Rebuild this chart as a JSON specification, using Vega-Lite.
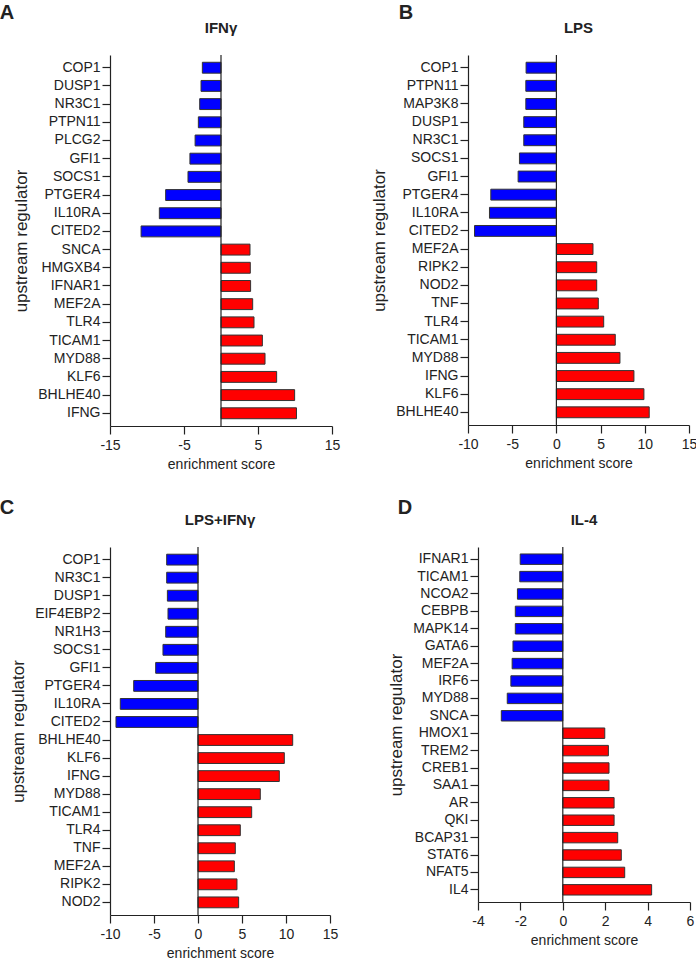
{
  "$schema": "https://vega.github.io/schema/vega-lite/v6.json",
  "padding": {"left": -1, "top": 3, "right": 0, "bottom": 0},
  "config": {
    "font": "Liberation Sans",
    "view": {"stroke": null},
    "axis": {"domainColor": "#222", "tickColor": "#222", "labelColor": "#222", "titleColor": "#222", "grid": false, "labelFontSize": 14, "titleFontWeight": "normal", "tickSize": 8, "domainWidth": 1.2, "tickWidth": 1.2},
    "axisY": {"titleFontSize": 17, "labelPadding": 2, "titlePadding": 7},
    "axisX": {"titleFontSize": 14, "labelPadding": 4, "titlePadding": 5, "labelFlush": false, "labelExpr": "replace(datum.label, '\u2212', '-')"},
    "title": {"fontSize": 15, "fontWeight": "bold", "color": "#222", "offset": 18},
    "concat": {"spacing": 0}
  },
  "datasets": {
    "A": [
      {"gene": "COP1", "score": -2.52, "dir": "down"},
      {"gene": "DUSP1", "score": -2.7, "dir": "down"},
      {"gene": "NR3C1", "score": -2.88, "dir": "down"},
      {"gene": "PTPN11", "score": -3.06, "dir": "down"},
      {"gene": "PLCG2", "score": -3.5, "dir": "down"},
      {"gene": "GFI1", "score": -4.2, "dir": "down"},
      {"gene": "SOCS1", "score": -4.46, "dir": "down"},
      {"gene": "PTGER4", "score": -7.48, "dir": "down"},
      {"gene": "IL10RA", "score": -8.33, "dir": "down"},
      {"gene": "CITED2", "score": -10.8, "dir": "down"},
      {"gene": "SNCA", "score": 3.92, "dir": "up"},
      {"gene": "HMGXB4", "score": 3.96, "dir": "up"},
      {"gene": "IFNAR1", "score": 4.0, "dir": "up"},
      {"gene": "MEF2A", "score": 4.28, "dir": "up"},
      {"gene": "TLR4", "score": 4.46, "dir": "up"},
      {"gene": "TICAM1", "score": 5.59, "dir": "up"},
      {"gene": "MYD88", "score": 5.95, "dir": "up"},
      {"gene": "KLF6", "score": 7.52, "dir": "up"},
      {"gene": "BHLHE40", "score": 9.95, "dir": "up"},
      {"gene": "IFNG", "score": 10.2, "dir": "up"}
    ],
    "B": [
      {"gene": "COP1", "score": -3.43, "dir": "down"},
      {"gene": "PTPN11", "score": -3.46, "dir": "down"},
      {"gene": "MAP3K8", "score": -3.46, "dir": "down"},
      {"gene": "DUSP1", "score": -3.69, "dir": "down"},
      {"gene": "NR3C1", "score": -3.69, "dir": "down"},
      {"gene": "SOCS1", "score": -4.18, "dir": "down"},
      {"gene": "GFI1", "score": -4.33, "dir": "down"},
      {"gene": "PTGER4", "score": -7.42, "dir": "down"},
      {"gene": "IL10RA", "score": -7.57, "dir": "down"},
      {"gene": "CITED2", "score": -9.26, "dir": "down"},
      {"gene": "MEF2A", "score": 4.14, "dir": "up"},
      {"gene": "RIPK2", "score": 4.56, "dir": "up"},
      {"gene": "NOD2", "score": 4.56, "dir": "up"},
      {"gene": "TNF", "score": 4.74, "dir": "up"},
      {"gene": "TLR4", "score": 5.35, "dir": "up"},
      {"gene": "TICAM1", "score": 6.66, "dir": "up"},
      {"gene": "MYD88", "score": 7.19, "dir": "up"},
      {"gene": "IFNG", "score": 8.77, "dir": "up"},
      {"gene": "KLF6", "score": 9.9, "dir": "up"},
      {"gene": "BHLHE40", "score": 10.5, "dir": "up"}
    ],
    "C": [
      {"gene": "COP1", "score": -3.56, "dir": "down"},
      {"gene": "NR3C1", "score": -3.56, "dir": "down"},
      {"gene": "DUSP1", "score": -3.48, "dir": "down"},
      {"gene": "EIF4EBP2", "score": -3.41, "dir": "down"},
      {"gene": "NR1H3", "score": -3.67, "dir": "down"},
      {"gene": "SOCS1", "score": -3.98, "dir": "down"},
      {"gene": "GFI1", "score": -4.81, "dir": "down"},
      {"gene": "PTGER4", "score": -7.31, "dir": "down"},
      {"gene": "IL10RA", "score": -8.83, "dir": "down"},
      {"gene": "CITED2", "score": -9.32, "dir": "down"},
      {"gene": "BHLHE40", "score": 10.76, "dir": "up"},
      {"gene": "KLF6", "score": 9.81, "dir": "up"},
      {"gene": "IFNG", "score": 9.24, "dir": "up"},
      {"gene": "MYD88", "score": 7.08, "dir": "up"},
      {"gene": "TICAM1", "score": 6.1, "dir": "up"},
      {"gene": "TLR4", "score": 4.81, "dir": "up"},
      {"gene": "TNF", "score": 4.24, "dir": "up"},
      {"gene": "MEF2A", "score": 4.13, "dir": "up"},
      {"gene": "RIPK2", "score": 4.43, "dir": "up"},
      {"gene": "NOD2", "score": 4.62, "dir": "up"}
    ],
    "D": [
      {"gene": "IFNAR1", "score": -2.01, "dir": "down"},
      {"gene": "TICAM1", "score": -2.03, "dir": "down"},
      {"gene": "NCOA2", "score": -2.14, "dir": "down"},
      {"gene": "CEBPB", "score": -2.24, "dir": "down"},
      {"gene": "MAPK14", "score": -2.24, "dir": "down"},
      {"gene": "GATA6", "score": -2.35, "dir": "down"},
      {"gene": "MEF2A", "score": -2.39, "dir": "down"},
      {"gene": "IRF6", "score": -2.45, "dir": "down"},
      {"gene": "MYD88", "score": -2.62, "dir": "down"},
      {"gene": "SNCA", "score": -2.9, "dir": "down"},
      {"gene": "HMOX1", "score": 1.98, "dir": "up"},
      {"gene": "TREM2", "score": 2.15, "dir": "up"},
      {"gene": "CREB1", "score": 2.18, "dir": "up"},
      {"gene": "SAA1", "score": 2.18, "dir": "up"},
      {"gene": "AR", "score": 2.42, "dir": "up"},
      {"gene": "QKI", "score": 2.42, "dir": "up"},
      {"gene": "BCAP31", "score": 2.59, "dir": "up"},
      {"gene": "STAT6", "score": 2.76, "dir": "up"},
      {"gene": "NFAT5", "score": 2.92, "dir": "up"},
      {"gene": "IL4", "score": 4.19, "dir": "up"}
    ]
  },
  "spacing": 27,
  "vconcat": [
    {
      "spacing": 30,
      "hconcat": [
        {
          "title": {"text": "A", "anchor": "start", "frame": "bounds", "fontSize": 20, "offset": -2, "dx": -13},
          "vconcat": [
            {
              "title": "IFNγ",
              "width": 222, "height": 371,
              "data": {"name": "A"},
              "layer": [
                {
                  "mark": {"type": "bar", "stroke": "#333", "strokeWidth": 1},
                  "encoding": {
                    "y": {"field": "gene", "type": "nominal", "sort": null, "title": "upstream regulator", "scale": {"paddingInner": 0.4, "paddingOuter": 0.4}},
                    "x": {"field": "score", "type": "quantitative", "title": "enrichment score", "scale": {"domain": [-15, 15], "nice": false}, "axis": {"values": [-15, -10, -5, 0, 5, 10, 15]}},
                    "color": {"field": "dir", "type": "nominal", "scale": {"domain": ["down", "up"], "range": ["#0000FF", "#FF0000"]}, "legend": null}
                  }
                },
                {
                  "data": {"values": [{}]},
                  "mark": {"type": "rule", "color": "#222", "strokeWidth": 1.2},
                  "encoding": {"x": {"datum": 0, "type": "quantitative", "title": "enrichment score"}}
                }
              ]
            }
          ]
        },
        {
          "title": {"text": "B", "anchor": "start", "frame": "bounds", "fontSize": 20, "offset": -2, "dx": 28},
          "vconcat": [
            {
              "title": "LPS",
              "width": 221, "height": 370,
              "data": {"name": "B"},
              "layer": [
                {
                  "mark": {"type": "bar", "stroke": "#333", "strokeWidth": 1},
                  "encoding": {
                    "y": {"field": "gene", "type": "nominal", "sort": null, "title": "upstream regulator", "scale": {"paddingInner": 0.4, "paddingOuter": 0.4}},
                    "x": {"field": "score", "type": "quantitative", "title": "enrichment score", "scale": {"domain": [-10, 15], "nice": false}, "axis": {"values": [-10, -5, 0, 5, 10, 15]}},
                    "color": {"field": "dir", "type": "nominal", "scale": {"domain": ["down", "up"], "range": ["#0000FF", "#FF0000"]}, "legend": null}
                  }
                },
                {
                  "data": {"values": [{}]},
                  "mark": {"type": "rule", "color": "#222", "strokeWidth": 1.2},
                  "encoding": {"x": {"datum": 0, "type": "quantitative", "title": "enrichment score"}}
                }
              ]
            }
          ]
        }
      ]
    },
    {
      "spacing": 49,
      "hconcat": [
        {
          "title": {"text": "C", "anchor": "start", "frame": "bounds", "fontSize": 20, "offset": -5, "dx": -10},
          "vconcat": [
            {
              "title": "LPS+IFNγ",
              "width": 220, "height": 368,
              "data": {"name": "C"},
              "layer": [
                {
                  "mark": {"type": "bar", "stroke": "#333", "strokeWidth": 1},
                  "encoding": {
                    "y": {"field": "gene", "type": "nominal", "sort": null, "title": "upstream regulator", "scale": {"paddingInner": 0.4, "paddingOuter": 0.4}},
                    "x": {"field": "score", "type": "quantitative", "title": "enrichment score", "scale": {"domain": [-10, 15], "nice": false}, "axis": {"values": [-10, -5, 0, 5, 10, 15]}},
                    "color": {"field": "dir", "type": "nominal", "scale": {"domain": ["down", "up"], "range": ["#0000FF", "#FF0000"]}, "legend": null}
                  }
                },
                {
                  "data": {"values": [{}]},
                  "mark": {"type": "rule", "color": "#222", "strokeWidth": 1.2},
                  "encoding": {"x": {"datum": 0, "type": "quantitative", "title": "enrichment score"}}
                }
              ]
            }
          ]
        },
        {
          "title": {"text": "D", "anchor": "start", "frame": "bounds", "fontSize": 20, "offset": -5, "dx": 10},
          "vconcat": [
            {
              "title": "IL-4",
              "width": 212, "height": 355,
              "data": {"name": "D"},
              "layer": [
                {
                  "mark": {"type": "bar", "stroke": "#333", "strokeWidth": 1},
                  "encoding": {
                    "y": {"field": "gene", "type": "nominal", "sort": null, "title": "upstream regulator", "scale": {"paddingInner": 0.4, "paddingOuter": 0.4}},
                    "x": {"field": "score", "type": "quantitative", "title": "enrichment score", "scale": {"domain": [-4, 6], "nice": false}, "axis": {"values": [-4, -2, 0, 2, 4, 6]}},
                    "color": {"field": "dir", "type": "nominal", "scale": {"domain": ["down", "up"], "range": ["#0000FF", "#FF0000"]}, "legend": null}
                  }
                },
                {
                  "data": {"values": [{}]},
                  "mark": {"type": "rule", "color": "#222", "strokeWidth": 1.2},
                  "encoding": {"x": {"datum": 0, "type": "quantitative", "title": "enrichment score"}}
                }
              ]
            }
          ]
        }
      ]
    }
  ]
}
